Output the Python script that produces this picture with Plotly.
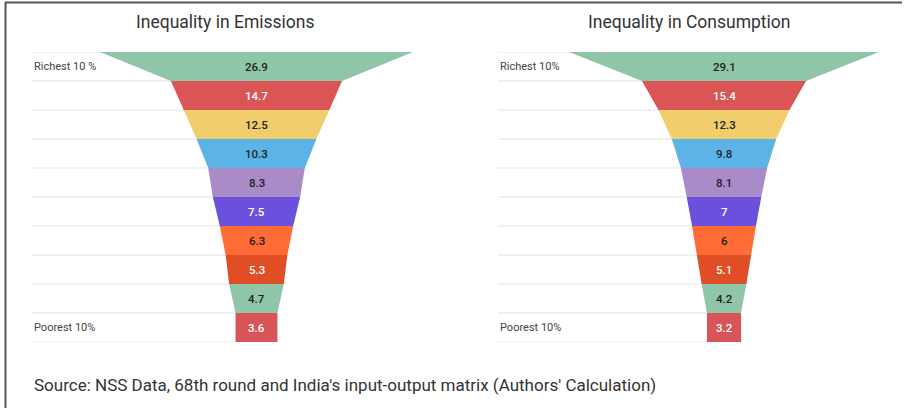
import plotly.graph_objects as go

W, H = 906, 408

# ---- data ----
emissions = [26.9, 14.7, 12.5, 10.3, 8.3, 7.5, 6.3, 5.3, 4.7, 3.6]
consumption = [29.1, 15.4, 12.3, 9.8, 8.1, 7, 6, 5.1, 4.2, 3.2]
emis_labels = ["Richest 10 %", "", "", "", "", "", "", "", "", "Poorest 10%"]
cons_labels = ["Richest 10%", "", "", "", "", "", "", "", "", "Poorest 10%"]
titles = ["Inequality in Emissions", "Inequality in Consumption"]
source = "Source: NSS Data, 68th round and India's input-output matrix (Authors' Calculation)"

colors = ["#8fc5a8", "#db5456", "#f2cd6b", "#5cb4e6", "#a98bc8",
          "#6a50dc", "#ff6b35", "#e04e25", "#8fc5a8", "#d95458"]
text_colors = ["#222", "#fff", "#222", "#222", "#222",
               "#fff", "#222", "#fff", "#222", "#fff"]

# ---- layout geometry (pixels) ----
top_px, bot_px = 52, 342
panels = [
    dict(vals=emissions, labels=emis_labels, left=32, right=481, center=256.5, ppu=11.64, title_x=225),
    dict(vals=consumption, labels=cons_labels, left=498, right=900, center=724, ppu=10.65, title_x=689),
]

fig = go.Figure()
layout = dict(
    width=W, height=H, margin=dict(l=0, r=0, t=0, b=0),
    paper_bgcolor="white", plot_bgcolor="rgba(0,0,0,0)",
    showlegend=False, font=dict(family="Roboto", color="#444"),
)
annotations = []
shapes = []
n = len(emissions)
for k, p in enumerate(panels):
    xa = "x" if k == 0 else "x2"
    ya = "y" if k == 0 else "y2"
    axkey = "xaxis" if k == 0 else "xaxis2"
    aykey = "yaxis" if k == 0 else "yaxis2"
    xmin = (p["left"] - p["center"]) / p["ppu"]
    xmax = (p["right"] - p["center"]) / p["ppu"]
    layout[axkey] = dict(domain=[p["left"] / W, p["right"] / W], range=[xmin, xmax],
                         visible=False, fixedrange=True)
    layout[aykey] = dict(domain=[1 - bot_px / H, 1 - top_px / H], range=[n, 0],
                         visible=False, fixedrange=True)
    vals = p["vals"]
    # gridlines
    for i in range(n + 1):
        shapes.append(dict(type="line", xref=xa, yref=ya, x0=xmin, x1=0, y0=i, y1=i,
                           line=dict(color="#e3e3e3", width=1), layer="below"))
    for i, v in enumerate(vals):
        nxt = vals[i + 1] if i + 1 < n else v
        xs = [-v / 2, v / 2, nxt / 2, -nxt / 2, -v / 2]
        ys = [i, i, i + 1, i + 1, i]
        fig.add_trace(go.Scatter(x=xs, y=ys, xaxis=xa, yaxis=ya, mode="lines",
                                 fill="toself", fillcolor=colors[i],
                                 line=dict(width=0, color=colors[i]), hoverinfo="skip"))
        annotations.append(dict(x=0, y=i + 0.5, xref=xa, yref=ya, text=str(v), showarrow=False,
                                font=dict(size=11.5, color=text_colors[i], family="Roboto", weight=500),
                                xanchor="center", yanchor="middle"))
        if p["labels"][i]:
            annotations.append(dict(x=p["left"] / W, y=i + 0.5, xref="paper", yref=ya,
                                    text=p["labels"][i], showarrow=False,
                                    font=dict(size=11, color="#444", family="Roboto"),
                                    xanchor="left", yanchor="middle"))
    annotations.append(dict(x=p["title_x"] / W, y=1 - 22 / H, xref="paper", yref="paper",
                            text=titles[k], showarrow=False,
                            font=dict(size=17.5, color="#333", family="Roboto"),
                            xanchor="center", yanchor="middle"))

annotations.append(dict(x=32 / W, y=1 - 385 / H, xref="paper", yref="paper", text=source,
                        showarrow=False, font=dict(size=17, color="#333", family="Roboto"),
                        xanchor="left", yanchor="middle"))
# frame
shapes.append(dict(type="line", xref="paper", yref="paper", x0=5 / W, x1=902 / W,
                   y0=1 - 2.5 / H, y1=1 - 2.5 / H, line=dict(color="#555", width=2)))
shapes.append(dict(type="line", xref="paper", yref="paper", x0=5.5 / W, x1=5.5 / W,
                   y0=0, y1=1 - 2 / H, line=dict(color="#555", width=2)))

layout["annotations"] = annotations
layout["shapes"] = shapes
fig.update_layout(**layout)
fig.write_html("out.html", config={"displayModeBar": False})
